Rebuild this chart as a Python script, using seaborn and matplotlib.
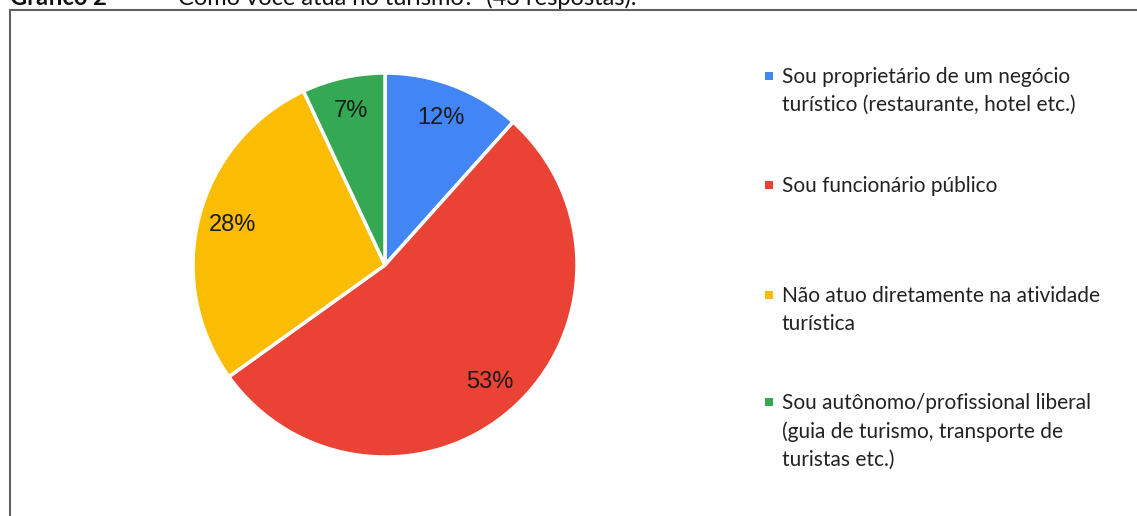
import matplotlib
matplotlib.use("Agg")
import matplotlib.pyplot as plt
import seaborn as sns
from matplotlib.patches import Rectangle

categories = [
    "Sou proprietário de um negócio\nturístico (restaurante, hotel etc.)",
    "Sou funcionário público",
    "Não atuo diretamente na atividade\nturística",
    "Sou autônomo/profissional liberal\n(guia de turismo, transporte de\nturistas etc.)",
]
counts = [5, 23, 12, 3]
colors = ["#4285F4", "#EA4335", "#FBBC04", "#34A853"]
title_bold = "Gráfico 2"
title_text = "Como você atua no turismo?  (43 respostas)."

sns.set_theme(style="white")
plt.rcParams['font.family'] = ['Lato', 'DejaVu Sans']

W, H = 1137, 516
fig = plt.figure(figsize=(W / 100, H / 100), dpi=100)
fig.patch.set_facecolor("white")

# border
fig.patches.append(Rectangle((9.5 / W, -0.1), 1.2, (H - 9.5) / H + 0.1,
                             transform=fig.transFigure, fill=False,
                             edgecolor="#606060", linewidth=1.5))

# title (cut off at top, as in the source image)
fig.text(10 / W, 1 - 5 / H, title_bold, fontsize=17, fontweight="bold",
         va="baseline", ha="left", color="#111111")
fig.text(178 / W, 1 - 5 / H, title_text, fontsize=17,
         va="baseline", ha="left", color="#111111")

# pie axes
cx, cy, r = 385, H - 265, 192
ax = fig.add_axes([(cx - r) / W, (cy - r) / H, 2 * r / W, 2 * r / H])
wedges, texts, autotexts = ax.pie(
    counts, colors=colors, startangle=90, counterclock=False, radius=1,
    autopct=lambda p: f"{p:.0f}%", pctdistance=0.82,
    wedgeprops=dict(edgecolor="white", linewidth=2.5),
    textprops=dict(fontsize=17, family="Liberation Sans", color="#1a1a1a"))
ax.set_xlim(-1, 1)
ax.set_ylim(-1, 1)
ax.set_aspect("equal")
ax.axis("off")

# legend (manual)
first_line_center = [76, 185, 295, 402]
for lab, col, y in zip(categories, colors, first_line_center):
    fig.patches.append(Rectangle((765 / W, 1 - (y + 4) / H), 8 / W, 8 / H,
                                 transform=fig.transFigure, facecolor=col,
                                 edgecolor="none"))
    fig.text(782 / W, 1 - (y - 9) / H, lab, fontsize=15, va="top",
             ha="left", color="#222222", linespacing=1.5)

fig.savefig("out.png", dpi=100, facecolor="white")
